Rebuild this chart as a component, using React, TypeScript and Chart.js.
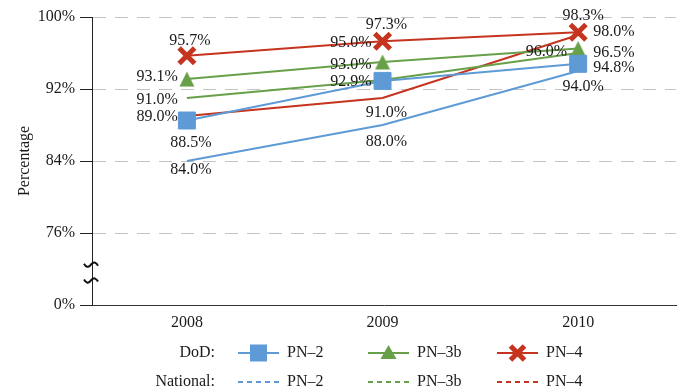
import React, { useEffect, useRef } from 'react';
import { Chart, registerables } from 'chart.js';

Chart.register(...registerables);

// ---- data ----
const years = [2008, 2009, 2010];
const dodPN2 = [88.5, 92.9, 94.8];
const dodPN3b = [93.1, 95.0, 96.5];
const dodPN4 = [95.7, 97.3, 98.3];
const natPN2 = [84.0, 88.0, 94.0];
const natPN3b = [91.0, 93.0, 96.0];
const natPN4 = [89.0, 91.0, 98.0];
// axis is broken: the lowest tick position stands for 0%
const yTicks = [68, 76, 84, 92, 100];
const yTickLabels = ['0%', '76%', '84%', '92%', '100%'];
const seriesNames = ['PN–2', 'PN–3b', 'PN–4'];
const groupNames = ['DoD:', 'National:'];

// ---- style ----
const FONT = "'Liberation Serif', 'DejaVu Serif', serif";
const TXT = '#1a1a1a';
const BLUE = '#5e9bd6';
const GREEN = '#68a04a';
const RED = '#c5341f';
const COLORS = [BLUE, GREEN, RED];

type Place = [string, number, number];
// label placements (anchor, dx, dy) per dataset per point
const PLACE: Place[][] = [
  [['c', 4, 22], ['l', -11, 1], ['r', 15, 4]], // DoD PN-2
  [['l', -9, -2], ['l', -11, -19], ['r', 15, 4]], // DoD PN-3b
  [['c', 3, -15], ['c', 4, -17], ['c', 5, -17]], // DoD PN-4
  [['c', 4, 9], ['c', 4, 17], ['c', 5, 16]], // Nat PN-2
  [['l', -9, 2], ['l', -11, -15], ['l', -11, -1]], // Nat PN-3b
  [['l', -9, 1], ['c', 4, 15], ['r', 15, -3]], // Nat PN-4
];

const pts = (vals: number[]) => vals.map((v, i) => ({ x: years[i], y: v }));

function makeTriangle(color: string) {
  const c = document.createElement('canvas');
  c.width = 16;
  c.height = 16;
  const g = c.getContext('2d')!;
  g.fillStyle = color;
  g.beginPath();
  g.moveTo(8, 0.5);
  g.lineTo(15.5, 15.5);
  g.lineTo(0.5, 15.5);
  g.closePath();
  g.fill();
  return c;
}

const labelPlugin = {
  id: 'valueLabels',
  afterDatasetsDraw(chart: any) {
    const ctx = chart.ctx;
    ctx.save();
    ctx.font = `16px ${FONT}`;
    ctx.fillStyle = TXT;
    ctx.textBaseline = 'middle';
    chart.data.datasets.forEach((ds: any, di: number) => {
      const meta = chart.getDatasetMeta(di);
      meta.data.forEach((el: any, i: number) => {
        const p = PLACE[di][i];
        const v = ds.data[i].y;
        ctx.textAlign = p[0] === 'c' ? 'center' : p[0] === 'l' ? 'right' : 'left';
        ctx.fillText(v.toFixed(1) + '%', el.x + p[1], el.y + p[2]);
      });
    });
    ctx.restore();
  },
};

function drawMarker(ctx: CanvasRenderingContext2D, kind: number, x: number, y: number, color: string) {
  ctx.save();
  ctx.fillStyle = color;
  ctx.strokeStyle = color;
  if (kind === 0) {
    ctx.fillRect(x - 8.5, y - 8.5, 17, 17);
  } else if (kind === 1) {
    ctx.beginPath();
    ctx.moveTo(x, y - 8);
    ctx.lineTo(x + 8, y + 6);
    ctx.lineTo(x - 8, y + 6);
    ctx.closePath();
    ctx.fill();
  } else {
    ctx.lineWidth = 5;
    ctx.beginPath();
    ctx.moveTo(x - 7, y - 7);
    ctx.lineTo(x + 7, y + 7);
    ctx.moveTo(x + 7, y - 7);
    ctx.lineTo(x - 7, y + 7);
    ctx.stroke();
  }
  ctx.restore();
}

const legendPlugin = {
  id: 'customLegend',
  afterDraw(chart: any) {
    const ctx: CanvasRenderingContext2D = chart.ctx;
    const rows = [353, 382];
    const lineX = [238, 368, 497];
    const lineW = 41;
    ctx.save();
    ctx.font = `16px ${FONT}`;
    ctx.textBaseline = 'middle';
    rows.forEach((ry, r) => {
      ctx.fillStyle = TXT;
      ctx.textAlign = 'right';
      ctx.fillText(groupNames[r], 215, ry);
      lineX.forEach((lx, s) => {
        ctx.strokeStyle = COLORS[s];
        ctx.lineWidth = 2;
        ctx.setLineDash(r === 0 ? [] : [5, 4]);
        ctx.beginPath();
        ctx.moveTo(lx, ry);
        ctx.lineTo(lx + lineW, ry);
        ctx.stroke();
        ctx.setLineDash([]);
        if (r === 0) drawMarker(ctx, s, lx + lineW / 2, ry, COLORS[s]);
        ctx.fillStyle = TXT;
        ctx.textAlign = 'left';
        ctx.fillText(seriesNames[s], lx + lineW + 8, ry);
      });
    });
    ctx.restore();
  },
};

const breakPlugin = {
  id: 'axisBreak',
  afterDraw(chart: any) {
    const ctx: CanvasRenderingContext2D = chart.ctx;
    const ys = chart.scales.y;
    const x = ys.right;
    const y0 = ys.getPixelForValue(68);
    const y1 = ys.getPixelForValue(76);
    const marks = [y0 - (y0 - y1) * 0.56, y0 - (y0 - y1) * 0.34];
    ctx.save();
    ctx.strokeStyle = '#111';
    ctx.lineWidth = 2;
    marks.forEach((y) => {
      ctx.beginPath();
      ctx.moveTo(x - 8, y - 1);
      ctx.quadraticCurveTo(x - 5, y + 4, x - 2, y + 1);
      ctx.quadraticCurveTo(x + 1, y - 3, x + 3, y - 2);
      ctx.quadraticCurveTo(x + 5, y - 1, x + 6, y + 1);
      ctx.stroke();
    });
    ctx.restore();
  },
};

export default function App() {
  const ref = useRef<HTMLCanvasElement | null>(null);
  useEffect(() => {
    if (!ref.current) return;
    const tri = makeTriangle(GREEN);
    const mk = (label: string, vals: number[], color: string, dod: boolean, style: any, radius: number) => ({
      label,
      data: pts(vals),
      borderColor: color,
      backgroundColor: color,
      borderWidth: 2,
      tension: 0,
      pointStyle: style,
      pointRadius: dod ? radius : 0,
      pointBorderWidth: style === 'crossRot' ? 5 : 1,
      pointBorderColor: color,
      pointBackgroundColor: color,
    });
    const chart = new Chart(ref.current, {
      type: 'line',
      data: {
        datasets: [
          mk('DoD PN-2', dodPN2, BLUE, true, 'rect', 12),
          mk('DoD PN-3b', dodPN3b, GREEN, true, tri, 9),
          mk('DoD PN-4', dodPN4, RED, true, 'crossRot', 11),
          mk('National PN-2', natPN2, BLUE, false, 'circle', 0),
          mk('National PN-3b', natPN3b, GREEN, false, 'circle', 0),
          mk('National PN-4', natPN4, RED, false, 'circle', 0),
        ],
      },
      options: {
        responsive: false,
        animation: false,
        layout: { autoPadding: false, padding: { top: 17, right: 5, bottom: 56, left: 0 } },
        plugins: { legend: { display: false }, tooltip: { enabled: false } },
        scales: {
          x: {
            type: 'linear',
            min: 2007.515,
            max: 2010.5,
            afterBuildTicks: (s: any) => {
              s.ticks = years.map((v) => ({ value: v }));
            },
            afterFit: (s: any) => {
              s.height = 30;
            },
            ticks: {
              callback: (v: any) => String(v),
              font: { family: FONT, size: 16 },
              color: TXT,
              padding: 8,
              maxRotation: 0,
            },
            grid: { drawOnChartArea: false, drawTicks: false },
            border: { display: true, color: '#333', width: 1 },
          },
          y: {
            type: 'linear',
            min: 68,
            max: 100,
            afterBuildTicks: (s: any) => {
              s.ticks = yTicks.map((v) => ({ value: v }));
            },
            afterFit: (s: any) => {
              s.width = 92;
            },
            ticks: {
              callback: (v: any) => yTickLabels[yTicks.indexOf(v)],
              font: { family: FONT, size: 16 },
              color: TXT,
              padding: 5,
            },
            grid: {
              color: (c: any) => (c.tick && c.tick.value === 68 ? 'rgba(0,0,0,0)' : '#c4c4c4'),
              lineWidth: 1,
              tickLength: 12,
              tickColor: '#222',
              tickWidth: 1,
              tickBorderDash: [],
            },
            border: { display: true, color: '#222', width: 1, dash: [13, 9] },
            title: {
              display: true,
              text: 'Percentage',
              font: { family: FONT, size: 16 },
              color: TXT,
              padding: { top: 15, bottom: 0 },
            },
          },
        },
      },
      plugins: [labelPlugin, legendPlugin, breakPlugin],
    });
    return () => chart.destroy();
  }, []);
  return (
    <div style={{ position: 'absolute', left: 0, top: 0, width: 681, height: 391, background: '#fff' }}>
      <canvas ref={ref} width={681} height={391} />
    </div>
  );
}
